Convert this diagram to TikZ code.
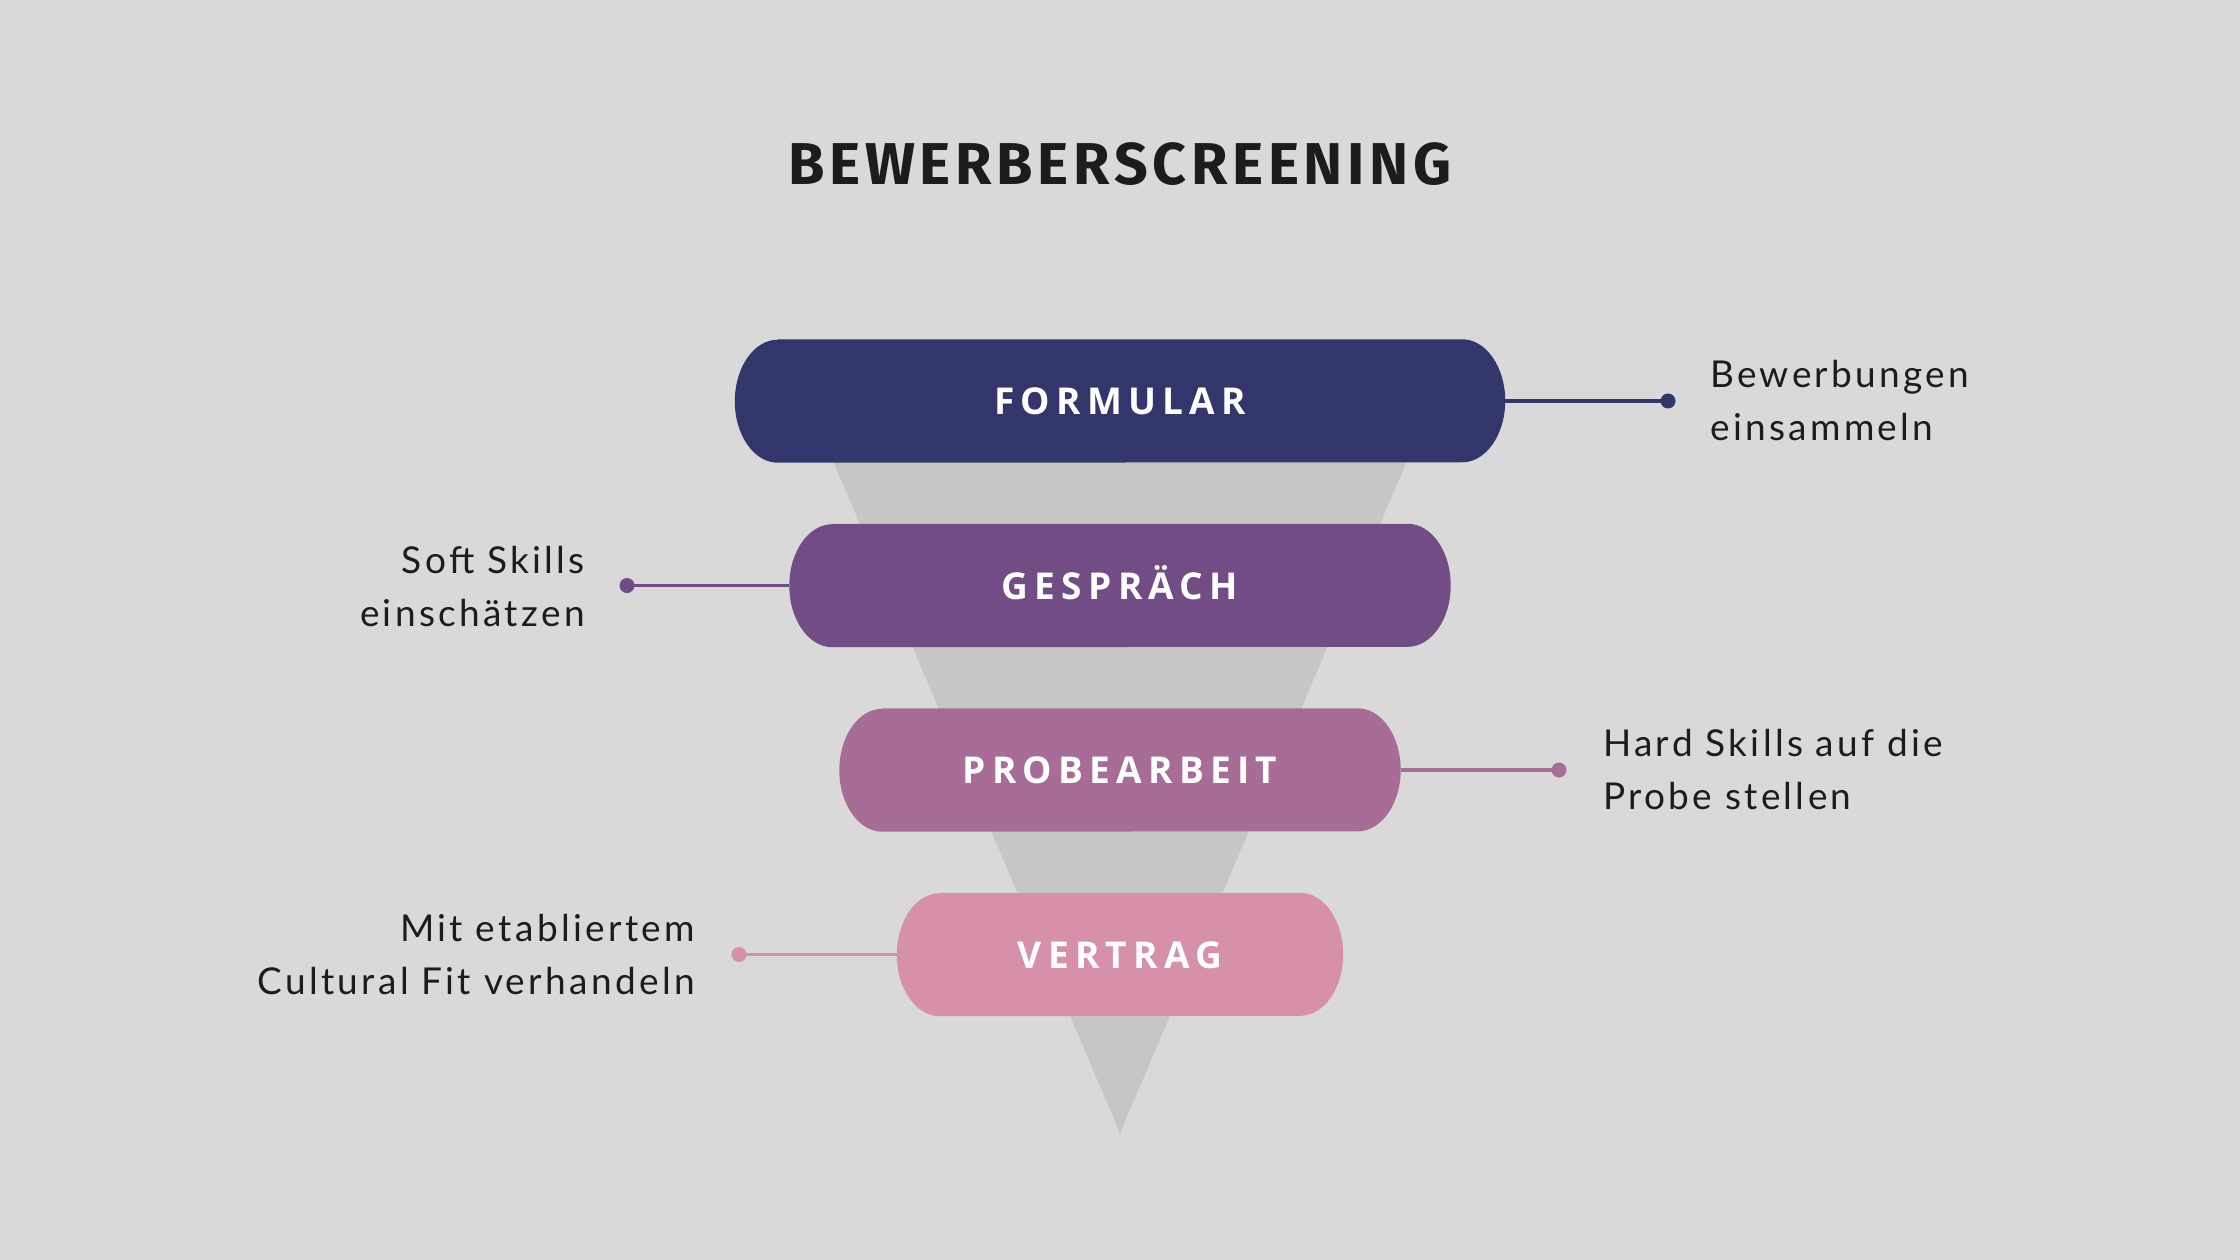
\documentclass[tikz,border=0pt]{standalone}
\usepackage{fontspec}
\setmainfont{Lato}
\newfontfamily\titlefont{Fira Sans}[UprightFont=* Bold, LetterSpace=8]
\newfontfamily\pillfont{Open Sans}[UprightFont=* Bold, LetterSpace=17]
\newfontfamily\labelfont{Lato}[LetterSpace=9]
\usetikzlibrary{backgrounds}
\definecolor{bg}{HTML}{D9D9D9}
\definecolor{funnel}{HTML}{C6C6C6}
\definecolor{cA}{HTML}{33366B}
\definecolor{cB}{HTML}{724C85}
\definecolor{cC}{HTML}{A86D97}
\definecolor{cD}{HTML}{D690AA}
\definecolor{ink}{HTML}{1C1C1C}
\newcommand{\pillshape}[2]{%
  \fill[#2] ([xshift=43pt]#1.north west) -- ([xshift=-43pt]#1.north east)
    arc[start angle=90,end angle=-90,x radius=43pt,y radius=61.5pt]
    -- ([xshift=43pt]#1.south west)
    arc[start angle=270,end angle=90,x radius=43pt,y radius=61.5pt] -- cycle;}
\tikzset{
  pill/.style={minimum height=123pt, inner sep=0pt, text=white,
    font=\pillfont\fontsize{37}{44}\selectfont, text height=27pt, text depth=0pt},
  lbl/.style={inner sep=0pt, text=ink, font=\labelfont\fontsize{37}{53}\selectfont},
  dotnode/.style={circle, inner sep=0pt, minimum size=15pt},
  conn/.style={line width=3.2pt}
}
\begin{document}
\begin{tikzpicture}[x=1pt,y=1pt]
\useasboundingbox (0,0) rectangle (2240,-1260);
% title
\node[anchor=base, inner sep=0pt, text=ink, font=\titlefont\fontsize{59}{60}\selectfont] (title) at (1120,-185) {BEWERBERSCREENING};
% pills (text)
\node[pill, minimum width=770pt] (p1) at (1120,-401) {FORMULAR};
\node[pill, minimum width=661pt] (p2) at (1120,-585.5) {GESPRÄCH};
\node[pill, minimum width=561pt] (p3) at (1120,-770) {PROBEARBEIT};
\node[pill, minimum width=446pt] (p4) at (1120,-954.5) {VERTRAG};
% dots
\node[dotnode, fill=cA] (d1) at (1668,-401) {};
\node[dotnode, fill=cB] (d2) at (627,-585.5) {};
\node[dotnode, fill=cC] (d3) at (1559,-770) {};
\node[dotnode, fill=cD] (d4) at (739,-954.5) {};
% labels (base anchor = baseline of last line)
\node[lbl, anchor=base west, align=left] (l1) at (1710,-440) {Bewerbungen\\einsammeln};
\node[lbl, anchor=base east, align=right] (l2) at (585,-626) {Soft Skills\\einschätzen};
\node[lbl, anchor=base west, align=left] (l3) at (1603,-809) {Hard Skills auf die\\Probe stellen};
\node[lbl, anchor=base east, align=right] (l4) at (695,-994) {Mit etabliertem\\Cultural Fit verhandeln};
\begin{pgfonlayer}{background}
\fill[bg] (0,0) rectangle (2240,-1260);
\fill[funnel] (781.4,-340) -- (1458.6,-340) -- (1120,-1133) -- cycle;
\pillshape{p1}{cA}
\pillshape{p2}{cB}
\pillshape{p3}{cC}
\pillshape{p4}{cD}
\draw[conn, cA] (p1.east) -- (d1.center);
\draw[conn, cB] (p2.west) -- (d2.center);
\draw[conn, cC] (p3.east) -- (d3.center);
\draw[conn, cD] (p4.west) -- (d4.center);
\end{pgfonlayer}
\end{tikzpicture}
\end{document}
